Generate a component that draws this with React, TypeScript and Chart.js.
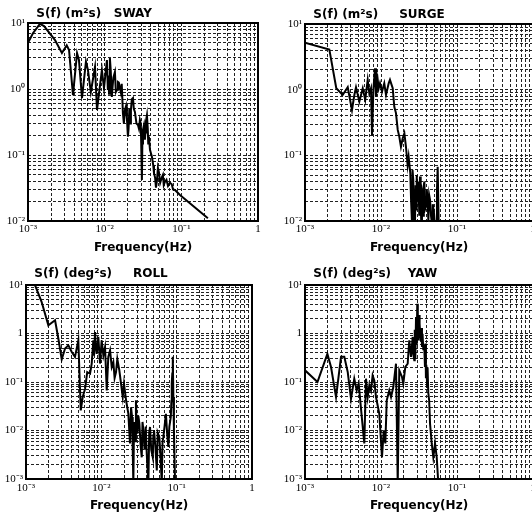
import { useEffect, useRef } from 'react';
import { Chart, registerables } from 'chart.js';

Chart.register(...registerables);

// ---------- tick labels ----------
const xTickValues = [0.001, 0.01, 0.1, 1];
const xTickLabels = ['10⁻³', '10⁻²', '10⁻¹', '1'];
const yTickValuesMotion = [0.01, 0.1, 1, 10];
const yTickLabelsMotion = ['10⁻²', '10⁻¹', '10⁰', '10¹'];
const yTickValuesAngle = [0.001, 0.01, 0.1, 1, 10];
const yTickLabelsAngle = ['10⁻³', '10⁻²', '10⁻¹', '1', '10¹'];

// ---------- SWAY ----------
const swayFreq = [0.001, 0.00116, 0.00143, 0.00162, 0.00225, 0.00277, 0.0032, 0.00343, 0.00386, 0.00436, 0.00462, 0.00506, 0.0057, 0.00605, 0.0066, 0.00748, 0.00794, 0.0092, 0.0098, 0.0107, 0.011, 0.0112, 0.0114, 0.0117, 0.012, 0.0124, 0.0127, 0.013, 0.0136, 0.014, 0.0145, 0.0149, 0.0153, 0.0158, 0.0162, 0.0167, 0.0173, 0.0178, 0.0184, 0.019, 0.0195, 0.0201, 0.0205, 0.021, 0.0215, 0.022, 0.0226, 0.0234, 0.024, 0.0248, 0.026, 0.0272, 0.028, 0.0288, 0.0296, 0.0306, 0.031, 0.0316, 0.0325, 0.0335, 0.034, 0.0345, 0.0356, 0.0365, 0.037, 0.0378, 0.039, 0.0414, 0.043, 0.044, 0.0455, 0.0467, 0.048, 0.0495, 0.051, 0.053, 0.0558, 0.0575, 0.059, 0.061, 0.064, 0.067, 0.071, 0.075, 0.078, 0.0826, 0.096, 0.222];
const swayPsd = [5.0, 7.0, 9.7, 9.0, 5.5, 3.5, 4.6, 3.9, 0.81, 3.5, 2.75, 0.73, 2.6, 1.94, 0.9, 2.15, 0.48, 1.94, 1.03, 2.75, 0.97, 1.6, 0.85, 2.95, 1.9, 0.76, 1.1, 1.5, 1.81, 0.9, 0.97, 1.28, 1.25, 1.03, 0.9, 1.2, 0.43, 0.3, 0.48, 0.55, 0.36, 0.19, 0.25, 0.5, 0.3, 0.48, 0.7, 0.73, 0.5, 0.45, 0.3, 0.285, 0.25, 0.34, 0.3, 0.042, 0.15, 0.24, 0.28, 0.17, 0.22, 0.32, 0.4, 0.25, 0.15, 0.19, 0.12, 0.093, 0.07, 0.053, 0.045, 0.032, 0.04, 0.064, 0.055, 0.038, 0.046, 0.05, 0.035, 0.039, 0.042, 0.034, 0.038, 0.036, 0.03, 0.0295, 0.0248, 0.011];

// ---------- SURGE ----------
const surgeFreq = [0.001, 0.00209, 0.00258, 0.00313, 0.00365, 0.00415, 0.00446, 0.00469, 0.00519, 0.00575, 0.0062, 0.00668, 0.00702, 0.00738, 0.00762, 0.00793, 0.00834, 0.00859, 0.00906, 0.00933, 0.0097, 0.0103, 0.01104, 0.01164, 0.01262, 0.01312, 0.01426, 0.01496, 0.01574, 0.0166, 0.0174, 0.0183, 0.0193, 0.0203, 0.0213, 0.0224, 0.0231, 0.0243, 0.0249, 0.0256, 0.026, 0.0266, 0.0272, 0.028, 0.0285, 0.029, 0.0295, 0.0302, 0.0308, 0.0313, 0.0319, 0.0326, 0.0333, 0.0339, 0.0346, 0.0354, 0.036, 0.0366, 0.0372, 0.038, 0.0391, 0.04, 0.0411, 0.042, 0.043, 0.0442, 0.0455, 0.0469, 0.048, 0.0498, 0.051, 0.053, 0.0545, 0.0557, 0.0574];
const surgePsd = [5.2, 4.1, 1.05, 0.83, 1.09, 0.49, 0.83, 1.09, 0.66, 1.05, 0.7, 1.41, 0.88, 1.05, 0.2, 0.99, 2.12, 0.78, 1.41, 1.05, 1.25, 0.93, 1.25, 0.83, 1.25, 1.41, 1.05, 0.55, 0.44, 0.244, 0.193, 0.135, 0.182, 0.217, 0.135, 0.071, 0.095, 0.053, 0.02, 0.009, 0.06, 0.042, 0.012, 0.009, 0.035, 0.015, 0.05, 0.02, 0.04, 0.03, 0.012, 0.0475, 0.02, 0.009, 0.03, 0.0265, 0.012, 0.035, 0.04, 0.015, 0.0166, 0.03, 0.021, 0.01, 0.025, 0.021, 0.012, 0.009, 0.018, 0.0133, 0.009, 0.009, 0.03, 0.067, 0.009];

// ---------- ROLL ----------
const rollFreq = [0.001, 0.00132, 0.00161, 0.00198, 0.00243, 0.00269, 0.00298, 0.0033, 0.00365, 0.00405, 0.00447, 0.00495, 0.00533, 0.00566, 0.00608, 0.0065, 0.00708, 0.00745, 0.00783, 0.008, 0.00825, 0.0085, 0.00869, 0.00912, 0.0096, 0.0101, 0.01064, 0.0112, 0.0118, 0.01238, 0.01306, 0.01374, 0.01443, 0.015, 0.01567, 0.0163, 0.01734, 0.01827, 0.01923, 0.02, 0.0213, 0.02285, 0.024, 0.0248, 0.0256, 0.0261, 0.0266, 0.0272, 0.028, 0.0288, 0.0294, 0.0301, 0.031, 0.032, 0.0332, 0.0344, 0.0352, 0.0361, 0.0375, 0.0388, 0.0401, 0.0421, 0.0432, 0.0443, 0.046, 0.0482, 0.049, 0.05, 0.052, 0.0545, 0.056, 0.0589, 0.061, 0.0634, 0.065, 0.0666, 0.069, 0.072, 0.075, 0.0776, 0.08, 0.0836, 0.085, 0.086, 0.0875, 0.0888, 0.0904, 0.092, 0.0953];
const rollPsd = [28, 9.86, 4.5, 1.48, 1.87, 0.78, 0.294, 0.49, 0.57, 0.416, 0.33, 0.72, 0.026, 0.049, 0.072, 0.16, 0.148, 0.24, 0.72, 0.35, 1.07, 0.5, 0.38, 0.85, 0.24, 0.72, 0.356, 0.527, 0.067, 0.33, 0.45, 0.204, 0.258, 0.12, 0.16, 0.3, 0.174, 0.092, 0.049, 0.092, 0.042, 0.022, 0.0054, 0.03, 0.019, 0.004, 0.0008, 0.015, 0.006, 0.042, 0.012, 0.0086, 0.02, 0.0138, 0.005, 0.0028, 0.015, 0.0102, 0.004, 0.012, 0.0033, 0.0008, 0.009, 0.0118, 0.004, 0.0028, 0.008, 0.0102, 0.005, 0.0015, 0.009, 0.0073, 0.003, 0.0008, 0.006, 0.0073, 0.012, 0.022, 0.008, 0.0046, 0.012, 0.019, 0.04, 0.092, 0.15, 0.33, 0.049, 0.01, 0.0008];

// ---------- YAW ----------
const yawFreq = [0.001, 0.00146, 0.00197, 0.0022, 0.00256, 0.00298, 0.00329, 0.00365, 0.00403, 0.00445, 0.00479, 0.00509, 0.00546, 0.00603, 0.00635, 0.00668, 0.00702, 0.00738, 0.00776, 0.00816, 0.00859, 0.0095, 0.0103, 0.01086, 0.0114, 0.0119, 0.01285, 0.01355, 0.01452, 0.01575, 0.0166, 0.0174, 0.0189, 0.01965, 0.0209, 0.02244, 0.02355, 0.02483, 0.02612, 0.0265, 0.02742, 0.0278, 0.0283, 0.0289, 0.0295, 0.03, 0.0305, 0.03097, 0.0319, 0.0322, 0.03327, 0.034, 0.0346, 0.0352, 0.03606, 0.037, 0.0379, 0.0385, 0.039, 0.0399, 0.0405, 0.041, 0.0419, 0.043, 0.0442, 0.0465, 0.0488, 0.0514, 0.0541, 0.0568, 0.0597];
const yawPsd = [0.174, 0.1, 0.38, 0.204, 0.049, 0.33, 0.33, 0.16, 0.045, 0.117, 0.067, 0.092, 0.028, 0.0054, 0.117, 0.049, 0.0855, 0.067, 0.137, 0.108, 0.049, 0.022, 0.0028, 0.0101, 0.0054, 0.042, 0.067, 0.049, 0.079, 0.238, 0.0008, 0.174, 0.127, 0.092, 0.204, 0.238, 0.72, 0.33, 0.85, 0.4, 0.28, 1.2, 0.3, 2.19, 0.6, 4.1, 0.9, 0.72, 2.4, 1.59, 0.7, 1.3, 0.527, 0.99, 0.45, 0.6, 0.204, 0.62, 0.12, 0.148, 0.08, 0.2, 0.06, 0.042, 0.0138, 0.0054, 0.0028, 0.0054, 0.0028, 0.0008, 0.0008];

interface Panel {
  title: string;
  freq: number[];
  psd: number[];
  yValues: number[];
  yLabels: string[];
  x: number;
  y: number;
  w: number;
  h: number;
  area: { left: number; right: number; top: number; bottom: number };
  titlePad: { top: number; bottom: number };
  tickPad: number;
  xTitlePad: number;
}

const panels: Panel[] = [
  {
    title: '  S(f) (m²s)   SWAY', freq: swayFreq, psd: swayPsd,
    yValues: yTickValuesMotion, yLabels: yTickLabelsMotion,
    x: 0, y: 0, w: 266, h: 257,
    area: { left: 28, right: 258, top: 23, bottom: 221 },
    titlePad: { top: 7, bottom: 1.6 }, tickPad: 2, xTitlePad: 2.2,
  },
  {
    title: '  S(f) (m²s)     SURGE', freq: surgeFreq, psd: surgePsd,
    yValues: yTickValuesMotion, yLabels: yTickLabelsMotion,
    x: 266, y: 0, w: 300, h: 257,
    area: { left: 39, right: 267, top: 24, bottom: 221 },
    titlePad: { top: 7.5, bottom: 2.1 }, tickPad: 2, xTitlePad: 2.2,
  },
  {
    title: '  S(f) (deg²s)     ROLL', freq: rollFreq, psd: rollPsd,
    yValues: yTickValuesAngle, yLabels: yTickLabelsAngle,
    x: 0, y: 257, w: 266, h: 257,
    area: { left: 26, right: 252, top: 28, bottom: 222 },
    titlePad: { top: 9.3, bottom: 4.3 }, tickPad: 3, xTitlePad: 0.8,
  },
  {
    title: '  S(f) (deg²s)    YAW', freq: yawFreq, psd: yawPsd,
    yValues: yTickValuesAngle, yLabels: yTickLabelsAngle,
    x: 266, y: 257, w: 300, h: 257,
    area: { left: 39, right: 267, top: 28, bottom: 222 },
    titlePad: { top: 9.3, bottom: 4.3 }, tickPad: 3, xTitlePad: 0.8,
  },
];

function logTicks(min: number, max: number) {
  const out: { value: number }[] = [];
  const e0 = Math.floor(Math.log10(min) + 1e-9);
  const e1 = Math.ceil(Math.log10(max) - 1e-9);
  for (let e = e0; e <= e1; e++) {
    for (let m = 1; m <= 9; m++) {
      const v = m * Math.pow(10, e);
      if (v >= min * 0.999 && v <= max * 1.001) out.push({ value: v });
    }
  }
  return out;
}

function labelFor(value: number, values: number[], labels: string[]) {
  for (let i = 0; i < values.length; i++) {
    if (Math.abs(value / values[i] - 1) < 1e-6) return labels[i];
  }
  return '';
}

const framePlugin = {
  id: 'frame',
  afterDraw(chart: any) {
    const { ctx, chartArea } = chart;
    ctx.save();
    ctx.setLineDash([]);
    ctx.strokeStyle = '#000';
    ctx.lineWidth = 2;
    ctx.strokeRect(chartArea.left, chartArea.top, chartArea.right - chartArea.left, chartArea.bottom - chartArea.top);
    ctx.restore();
  },
};

function PanelChart({ p }: { p: Panel }) {
  const ref = useRef<HTMLCanvasElement | null>(null);
  useEffect(() => {
    if (!ref.current) return;
    const yMin = p.yValues[0];
    const yMax = p.yValues[p.yValues.length - 1];
    const tickFont = { family: '"Liberation Serif", "Times New Roman", serif', size: 11 };
    const gridCfg = { color: '#222', lineWidth: 1, drawTicks: false };
    const chart = new Chart(ref.current, {
      type: 'line',
      data: {
        datasets: [
          {
            data: p.freq.map((f, i) => ({ x: f, y: p.psd[i] })),
            borderColor: '#000',
            borderWidth: 2,
            pointRadius: 0,
            tension: 0,
            fill: false,
          },
        ],
      },
      options: {
        animation: false,
        responsive: false,
        devicePixelRatio: 1,
        layout: { padding: { left: 0, top: 0, bottom: 0, right: p.w - p.area.right } },
        plugins: {
          legend: { display: false },
          tooltip: { enabled: false },
          title: {
            display: true,
            text: p.title,
            align: 'start',
            fullSize: false,
            color: '#000',
            font: { family: '"DejaVu Sans", sans-serif', weight: 'bold', size: 12, lineHeight: 1.2 },
            padding: { top: p.titlePad.top, bottom: p.titlePad.bottom },
          },
        },
        scales: {
          x: {
            type: 'logarithmic',
            min: xTickValues[0],
            max: xTickValues[xTickValues.length - 1],
            afterBuildTicks: (s: any) => { s.ticks = logTicks(s.min, s.max); },
            afterFit: (s: any) => { s.height = p.h - p.area.bottom; },
            ticks: {
              autoSkip: false, maxRotation: 0, minRotation: 0,
              padding: p.tickPad, color: '#000', font: tickFont,
              callback: (v: any) => labelFor(Number(v), xTickValues, xTickLabels),
            },
            grid: gridCfg,
            border: { display: false, dash: [3, 2] },
            title: {
              display: true,
              text: 'Frequency(Hz)',
              color: '#000',
              font: { family: '"DejaVu Sans", sans-serif', weight: 'bold', size: 12, lineHeight: 1.2 },
              padding: { top: 0, bottom: p.xTitlePad },
            },
          },
          y: {
            type: 'logarithmic',
            min: yMin,
            max: yMax,
            afterBuildTicks: (s: any) => { s.ticks = logTicks(s.min, s.max); },
            afterFit: (s: any) => { s.width = p.area.left; },
            ticks: {
              autoSkip: false,
              padding: 3, color: '#000', font: tickFont,
              callback: (v: any) => labelFor(Number(v), p.yValues, p.yLabels),
            },
            grid: gridCfg,
            border: { display: false, dash: [3, 2] },
          },
        },
      } as any,
      plugins: [framePlugin],
    });
    return () => chart.destroy();
  }, [p]);
  return (
    <canvas
      ref={ref}
      width={p.w}
      height={p.h}
      style={{ position: 'absolute', left: p.x, top: p.y, width: p.w, height: p.h }}
    />
  );
}

export default function App() {
  return (
    <div
      style={{
        position: 'fixed', left: 0, top: 0, width: 532, height: 514,
        overflow: 'hidden', background: '#fff',
      }}
    >
      {panels.map((p, i) => (
        <PanelChart key={i} p={p} />
      ))}
    </div>
  );
}
